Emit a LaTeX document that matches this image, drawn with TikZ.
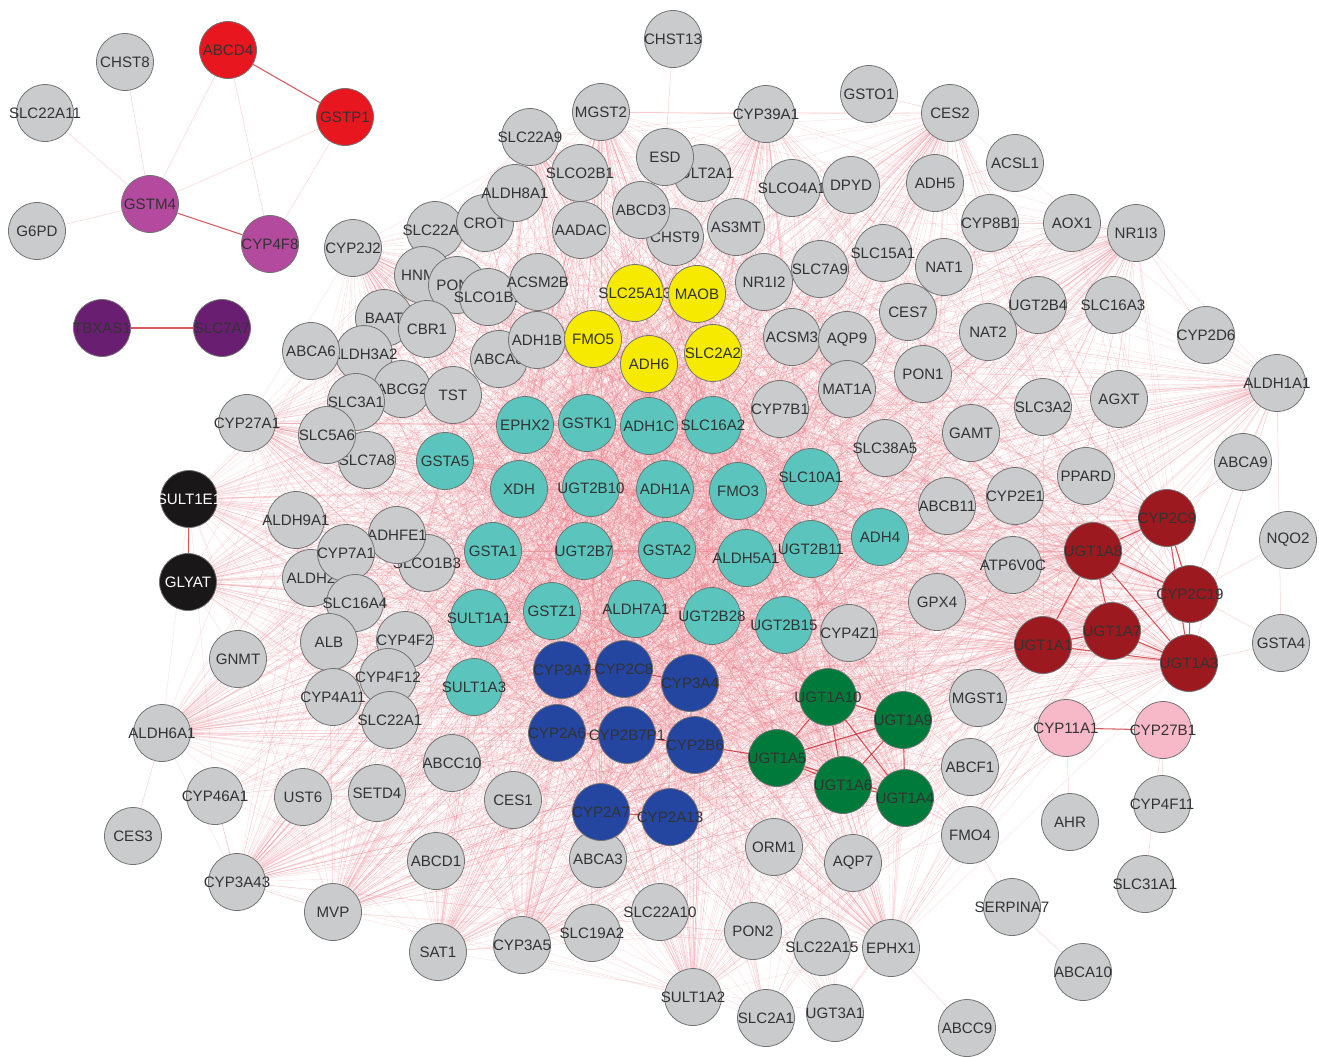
\documentclass[tikz,border=0pt]{standalone}
\usepackage{fontspec}
\setsansfont{Liberation Sans}
\usetikzlibrary{backgrounds}

\definecolor{genegrey}{HTML}{C9CBCD}
\definecolor{genered}{HTML}{E8161F}
\definecolor{genemagenta}{HTML}{B34A9E}
\definecolor{genepurple}{HTML}{6A1E72}
\definecolor{geneyellow}{HTML}{F6EA00}
\definecolor{geneteal}{HTML}{5BC5BD}
\definecolor{geneblue}{HTML}{2445A0}
\definecolor{genedarkred}{HTML}{9C1A1F}
\definecolor{genegreen}{HTML}{007A3B}
\definecolor{genepink}{HTML}{F7B9C8}
\definecolor{geneblack}{HTML}{1A1718}
\definecolor{linkpink}{HTML}{E8707C}

\tikzset{
  gene/.style={circle, draw=black!55, line width=0.45pt, fill=genegrey,
    minimum size=1.14cm, inner sep=0pt, text=black!80,
    font=\sffamily\fontsize{8.6}{9}\selectfont},
  redgene/.style={gene, fill=genered},
  magentagene/.style={gene, fill=genemagenta},
  purplegene/.style={gene, fill=genepurple},
  yellowgene/.style={gene, fill=geneyellow},
  tealgene/.style={gene, fill=geneteal},
  bluegene/.style={gene, fill=geneblue},
  darkredgene/.style={gene, fill=genedarkred},
  greengene/.style={gene, fill=genegreen},
  pinkgene/.style={gene, fill=genepink},
  blackgene/.style={gene, fill=geneblack, text=white},
  link/.style={draw=linkpink, line width=0.25pt, opacity=0.22},
  faint/.style={draw=linkpink, line width=0.3pt, opacity=0.3},
  tie/.style={draw=genered!85!black, line width=0.6pt, opacity=0.7},
}

% gene lists used for the edges
\newcommand{\coregenes}{GSTA5,EPHX2,GSTK1,ADH1C,SLC16A2,XDH,UGT2B10,ADH1A,FMO3,SLC10A1,GSTA1,UGT2B7,GSTA2,ALDH5A1,UGT2B11,ADH4,SULT1A1,GSTZ1,ALDH7A1,UGT2B28,UGT2B15,SULT1A3,CYP3A7,CYP2C8,CYP3A4,CYP2A6,CYP2B7P1,CYP2B6,CYP2A7,CYP2A13,SLC25A13,MAOB,FMO5,ADH6,SLC2A2,CYP2C9,UGT1A8,CYP2C19,UGT1A7,UGT1A1,UGT1A3,UGT1A10,UGT1A9,UGT1A5,UGT1A6,UGT1A4}
\newcommand{\greygenes}{MGST2,SLC22A9,CYP39A1,CES2,SULT2A1,ESD,SLCO2B1,SLC22A7,CROT,ALDH8A1,SLCO4A1,DPYD,ADH5,CHST9,ABCD3,AADAC,AS3MT,CYP8B1,AOX1,NR1I3,CYP2J2,HNMT,PON3,SLCO1B1,ACSM2B,NR1I2,SLC7A9,SLC15A1,NAT1,UGT2B4,SLC16A3,BAAT,CBR1,ALDH3A2,ABCA6,ABCA8,ADH1B,ACSM3,AQP9,MAT1A,CES7,NAT2,PON1,CYP7B1,ABCG2,TST,SLC7A8,SLC3A1,SLC5A6,SLC3A2,AGXT,ALDH1A1,CYP27A1,GAMT,SLC38A5,ABCB11,CYP2E1,PPARD,ALDH9A1,SLCO1B3,ADHFE1,ALDH2,CYP7A1,SLC16A4,ATP6V0C,GPX4,CYP4Z1,CYP4F2,ALB,CYP4A11,CYP4F12,SLC22A1,MGST1,ALDH6A1,ABCC10,CES1,SETD4,UST6,ABCF1,FMO4,ORM1,AQP7,ABCA3,ABCD1,CYP3A43,MVP,SLC22A10,PON2,SLC22A15,EPHX1,SAT1,CYP3A5,SLC19A2,SULT1A2,SLC2A1,UGT3A1,GNMT,CYP46A1}
\newcommand{\hubgenes}{GLYAT,SULT1E1,CYP2J2,CYP27A1,ALDH6A1,CYP3A43,MVP,SAT1,CYP3A5,SULT1A2,EPHX1,ALDH1A1,NR1I3,CES2,CYP39A1,MGST2,SLC22A9}

\begin{document}
\begin{tikzpicture}[x=0.02cm, y=-0.02cm]
  \useasboundingbox (0,0) rectangle (1319,1056);

  % Top-left component
  \foreach \gn/\gx/\gy in {CHST8/125/62, SLC22A11/45/113, G6PD/37/231}
    \node[gene] (\gn) at (\gx,\gy) {\makebox[0pt]{\gn}};
  \foreach \gn/\gx/\gy in {ABCD4/228/50, GSTP1/345/117}
    \node[redgene] (\gn) at (\gx,\gy) {\makebox[0pt]{\gn}};
  \foreach \gn/\gx/\gy in {GSTM4/150/204, CYP4F8/270/244}
    \node[magentagene] (\gn) at (\gx,\gy) {\makebox[0pt]{\gn}};
  \foreach \gn/\gx/\gy in {TBXAS1/102/328, SLC7A7/222/328}
    \node[purplegene] (\gn) at (\gx,\gy) {\makebox[0pt]{\gn}};

  % Main component: grey genes
  \foreach \gn/\gx/\gy in {CHST13/673/39, MGST2/601/112, SLC22A9/530/137,
      CYP39A1/766/114, GSTO1/869/94, CES2/950/113, SULT2A1/702/173, ESD/665/157,
      SLCO2B1/580/173, SLC22A7/435/230, CROT/485/223, ALDH8A1/515/193,
      SLCO4A1/792/188, DPYD/851/185, ADH5/935/183, ACSL1/1015/163,
      CHST9/675/237, ABCD3/641/210, AADAC/581/230, AS3MT/736/227,
      CYP8B1/990/223, AOX1/1072/223, NR1I3/1136/233, CYP2J2/353/248,
      HNMT/423/275, PON3/457/285, SLCO1B1/488/297, ACSM2B/538/282,
      NR1I2/764/282, SLC7A9/820/269, SLC15A1/883/253, NAT1/944/267,
      UGT2B4/1038/305, SLC16A3/1113/305, CYP2D6/1206/335,
      BAAT/384/318, CBR1/427/329, ALDH3A2/364/354, ABCA6/311/351,
      ABCA8/499/359, ADH1B/537/340, ACSM3/792/337, AQP9/847/340,
      MAT1A/847/389, CES7/908/312, NAT2/988/332, PON1/923/374,
      CYP7B1/780/409, ABCG2/402/389, TST/453/395, SLC7A8/367/460,
      SLC3A1/356/402, SLC5A6/327/435, SLC3A2/1043/407, AGXT/1119/399,
      ALDH1A1/1277/383, CYP27A1/247/423, GAMT/971/433, SLC38A5/885/448,
      ABCA9/1243/462, ABCB11/947/506, CYP2E1/1015/496, PPARD/1086/476,
      ALDH9A1/296/520, SLCO1B3/427/563, ADHFE1/397/535, ALDH2/311/578,
      CYP7A1/346/553, SLC16A4/355/603, ATP6V0C/1013/565, NQO2/1288/540,
      GPX4/937/602, CYP4Z1/849/633, CYP4F2/405/640, ALB/329/642,
      GNMT/238/659, CYP4A11/333/697, CYP4F12/388/677, SLC22A1/390/720,
      GSTA4/1281/643, MGST1/978/698, ALDH6A1/162/733, ABCC10/452/763,
      CES1/513/800, SETD4/377/793, UST6/303/797, CYP46A1/215/796,
      ABCF1/970/767, CES3/133/836, CYP4F11/1162/804, AHR/1070/822,
      FMO4/970/835, ORM1/774/847, AQP7/853/863, ABCA3/598/859,
      ABCD1/436/861, CYP3A43/237/882, SLC31A1/1145/884, MVP/333/912,
      SERPINA7/1012/907, SLC22A10/660/912, PON2/753/931, SLC22A15/822/947,
      EPHX1/891/948, SAT1/438/952, CYP3A5/522/945, SLC19A2/592/933,
      ABCA10/1083/972, SULT1A2/693/997, SLC2A1/766/1018, UGT3A1/835/1013,
      ABCC9/967/1028}
    \node[gene] (\gn) at (\gx,\gy) {\makebox[0pt]{\gn}};

  % Black pair
  \foreach \gn/\gx/\gy in {SULT1E1/189/499, GLYAT/188/582}
    \node[blackgene] (\gn) at (\gx,\gy) {\makebox[0pt]{\gn}};

  % Yellow cluster
  \foreach \gn/\gx/\gy in {SLC25A13/635/293, MAOB/697/294, FMO5/593/339,
      ADH6/649/364, SLC2A2/713/353}
    \node[yellowgene] (\gn) at (\gx,\gy) {\makebox[0pt]{\gn}};

  % Teal cluster
  \foreach \gn/\gx/\gy in {GSTA5/445/461, EPHX2/525/425, GSTK1/587/423,
      ADH1C/649/426, SLC16A2/713/425, XDH/519/489, UGT2B10/591/488,
      ADH1A/665/489, FMO3/738/491, SLC10A1/811/477, GSTA1/493/551,
      UGT2B7/584/551, GSTA2/667/550, ALDH5A1/746/558, UGT2B11/811/549,
      ADH4/880/537, SULT1A1/479/618, GSTZ1/552/611, ALDH7A1/636/609,
      UGT2B28/712/616, UGT2B15/784/625, SULT1A3/474/687}
    \node[tealgene] (\gn) at (\gx,\gy) {\makebox[0pt]{\gn}};

  % Blue cluster
  \foreach \gn/\gx/\gy in {CYP3A7/562/670, CYP2C8/624/669, CYP3A4/690/683,
      CYP2A6/557/733, CYP2B7P1/627/735, CYP2B6/695/745, CYP2A7/601/812,
      CYP2A13/670/817}
    \node[bluegene] (\gn) at (\gx,\gy) {\makebox[0pt]{\gn}};

  % Dark red cluster
  \foreach \gn/\gx/\gy in {CYP2C9/1167/518, UGT1A8/1093/551, CYP2C19/1190/594,
      UGT1A7/1112/631, UGT1A1/1043/645, UGT1A3/1189/663}
    \node[darkredgene] (\gn) at (\gx,\gy) {\makebox[0pt]{\gn}};

  % Green cluster
  \foreach \gn/\gx/\gy in {UGT1A10/828/697, UGT1A9/903/720, UGT1A5/777/758,
      UGT1A6/843/785, UGT1A4/905/798}
    \node[greengene] (\gn) at (\gx,\gy) {\makebox[0pt]{\gn}};

  % Pink pair
  \foreach \gn/\gx/\gy in {CYP11A1/1066/728, CYP27B1/1163/730}
    \node[pinkgene] (\gn) at (\gx,\gy) {\makebox[0pt]{\gn}};

  \begin{pgfonlayer}{background}
    % core to core
    \foreach \a [count=\i] in \coregenes {
      \foreach \b [count=\j] in \coregenes {
        \ifnum\j>\i \draw[link] (\a) -- (\b); \fi
      }
    }
    % grey to core
    \foreach \a [count=\i] in \greygenes {
      \foreach \b [count=\j] in \coregenes {
        \pgfmathtruncatemacro\k{mod(\i+\j,3)}
        \ifnum\k=0 \draw[link] (\a) -- (\b); \fi
      }
    }
    % hubs to core
    \foreach \a in \hubgenes {
      \foreach \b in \coregenes { \draw[link] (\a) -- (\b); }
    }
    % hubs to grey
    \foreach \a [count=\i] in \hubgenes {
      \foreach \b [count=\j] in \greygenes {
        \pgfmathtruncatemacro\k{mod(\i+\j,4)}
        \edef\ta{\a}\edef\tb{\b}
        \ifnum\k=0 \ifx\ta\tb\else \draw[link] (\a) -- (\b); \fi\fi
      }
    }
    % sparse outer genes
    \foreach \a/\b in {CHST13/ESD, GSTO1/CES2, MGST2/CYP39A1, CYP39A1/CES2,
        ACSL1/ADH5, CYP8B1/AOX1, AOX1/NR1I3, NR1I3/CYP2D6, ALDH1A1/ABCA9,
        ALDH1A1/GSTA4, NQO2/CYP2C19, GSTA4/UGT1A3, GSTA4/CYP2C19,
        CYP4F11/CYP27B1, SLC31A1/CYP27B1, AHR/CYP11A1, SERPINA7/ABCA10,
        CES3/ALDH6A1, CYP46A1/CYP3A43, ABCA9/CYP2C9, CYP2D6/ALDH1A1,
        CYP11A1/MGST1, CYP11A1/ABCF1, CYP11A1/FMO4, CYP27B1/UGT1A1,
        ABCC9/EPHX1, SERPINA7/FMO4}
      \draw[faint] (\a) -- (\b);
    % top-left component
    \foreach \a/\b in {CHST8/GSTM4, SLC22A11/GSTM4, G6PD/GSTM4, ABCD4/GSTM4,
        ABCD4/CYP4F8, GSTP1/GSTM4, GSTP1/CYP4F8}
      \draw[faint] (\a) -- (\b);
    \foreach \a/\b in {ABCD4/GSTP1, GSTM4/CYP4F8, TBXAS1/SLC7A7,
        SULT1E1/GLYAT, CYP11A1/CYP27B1,
        UGT1A8/UGT1A1, UGT1A8/UGT1A7, UGT1A8/UGT1A3, UGT1A8/CYP2C19,
        UGT1A8/CYP2C9, UGT1A7/UGT1A1, UGT1A7/UGT1A3, UGT1A1/UGT1A3,
        CYP2C9/CYP2C19, CYP2C19/UGT1A3, CYP2C9/UGT1A3,
        UGT1A10/UGT1A9, UGT1A10/UGT1A5, UGT1A10/UGT1A6, UGT1A10/UGT1A4,
        UGT1A9/UGT1A5, UGT1A9/UGT1A6, UGT1A9/UGT1A4, UGT1A5/UGT1A6,
        UGT1A5/UGT1A4, UGT1A6/UGT1A4,
        CYP2A6/CYP2B7P1, CYP2B7P1/CYP2B6, CYP2A7/CYP2A13, CYP3A7/CYP2C8,
        CYP2C8/CYP3A4, CYP2B6/UGT1A5}
      \draw[tie] (\a) -- (\b);
  \end{pgfonlayer}
\end{tikzpicture}
\end{document}
